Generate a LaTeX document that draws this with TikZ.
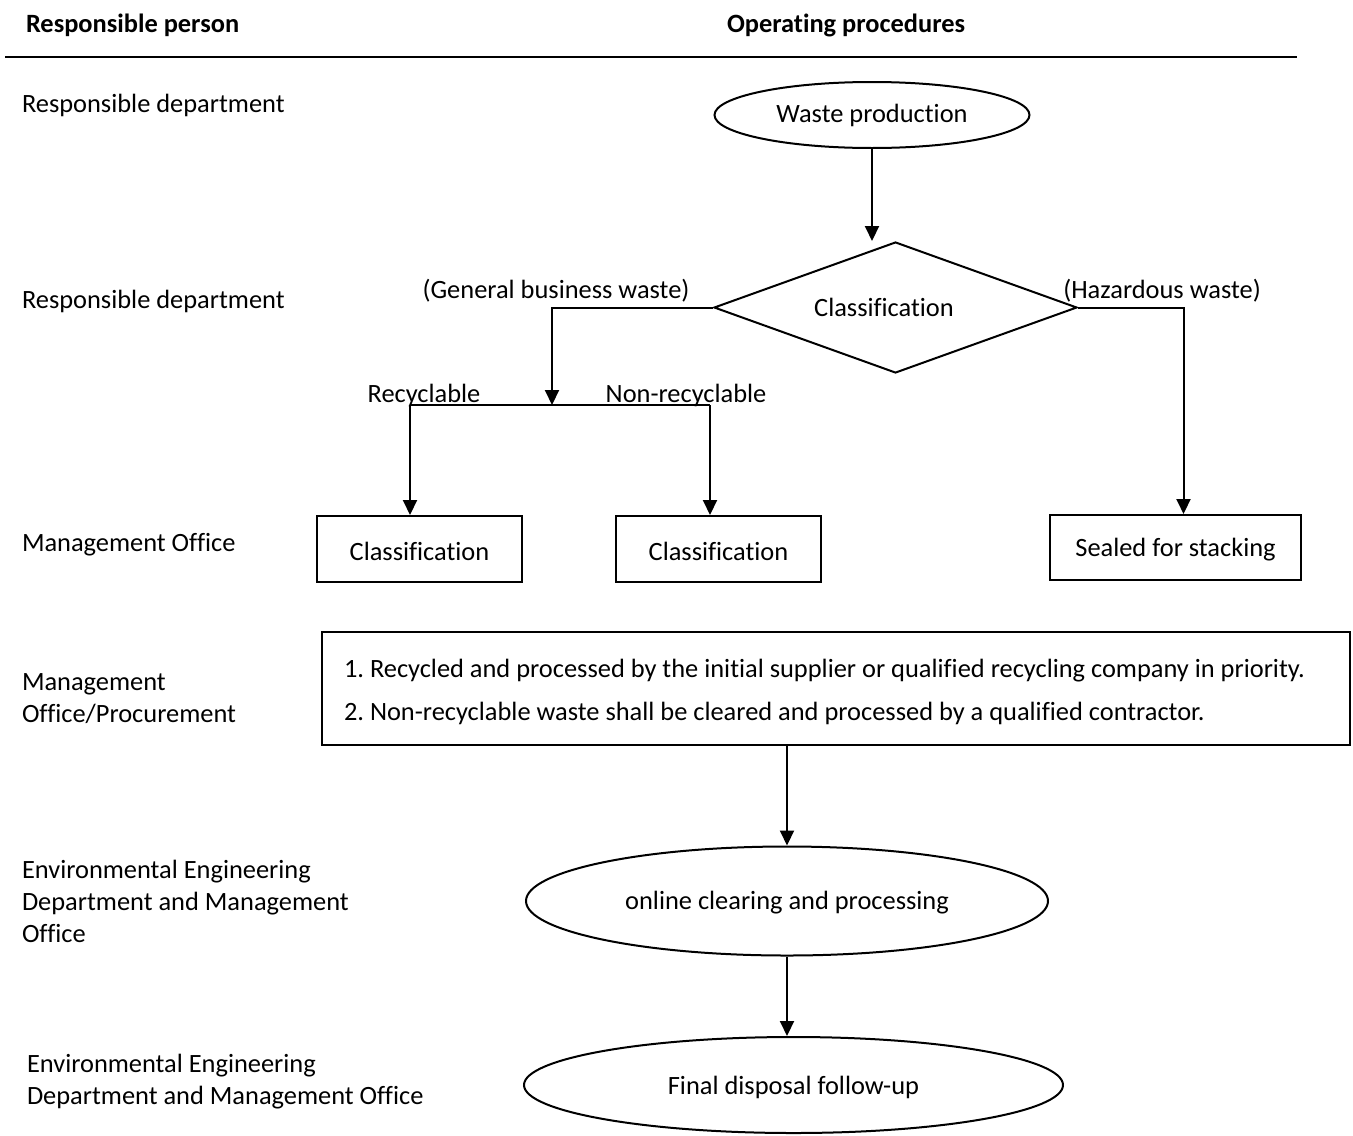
\documentclass[tikz,border=0pt]{standalone}
\usepackage{fontspec}
\setmainfont{Carlito}[Ligatures={NoCommon,NoContextual}]
\usetikzlibrary{shapes.geometric,arrows.meta}
\frenchspacing
\begin{document}
\begin{tikzpicture}[x=0.5pt,y=-0.5pt,
  font=\fontsize{13.2}{16}\selectfont,
  line width=1pt,
  arr/.style={-{Triangle[length=7.5pt,width=7pt]}},
  box/.style={draw, rectangle, minimum height=33pt, inner sep=0pt},
  oval/.style={draw, ellipse, inner sep=0pt},
  lbl/.style={anchor=west, align=left, inner sep=0pt},
  hdr/.style={anchor=west, inner sep=0pt, font=\fontsize{13.2}{16}\selectfont\bfseries},
  tag/.style={inner sep=0pt}
]
\useasboundingbox (0,0) rectangle (1353,1135);

% header
\node[hdr] (h1) at (25,25) {Responsible person};
\node[hdr] (h2) at (726,25) {Operating procedures};
\coordinate (hl) at (5,57);
\coordinate (hr) at (1297,57);
\draw[line width=1.2pt] (hl) -- (hr);

% left column
\node[lbl] (r1) at (21,105) {Responsible department};
\node[lbl] (r2) at (21,301) {Responsible department};
\node[lbl] (r3) at (21,545) {Management Office};
\node[lbl] (r4) at (21,699) {Management\\Office/Procurement};
\node[lbl] (r5) at (21,901) {Environmental Engineering\\Department and Management\\Office};
\node[lbl] (r6) at (26,1082) {Environmental Engineering\\Department and Management Office};

% flow
\node[oval, minimum width=157.5pt, minimum height=33pt] (wp) at (872,115) {Waste production};
\node[draw, diamond, shape aspect=2.8, minimum width=181.5pt, minimum height=65.5pt, inner sep=0pt] (cl) at (895.5,307.5) {};
\node[tag] (clt) at (884,307) {Classification};

\draw[arr] (wp.south) -- (wp.south |- cl.north);

\node[tag] (gbw) at (556,291) {(General business waste)};
\node[tag] (hw) at (1162,291) {(Hazardous waste)};
\node[tag] (rec) at (424,395) {Recyclable};
\node[tag] (nrec) at (686,395) {Non-recyclable};

\node[box, minimum width=102.5pt] (c1) at (419.5,549) {};
\node[tag] (c1t) at (419.5,551) {Classification};
\node[box, minimum width=102.5pt] (c2) at (718.5,549) {};
\node[tag] (c2t) at (718.5,551) {Classification};
\node[box, minimum width=125.5pt, minimum height=32.5pt] (c3) at (1175.5,547.5) {};
\node[tag] (c3t) at (1175.5,550) {Sealed for stacking};

\coordinate (g) at (552,405);
\coordinate (bl) at (410,405);
\coordinate (br) at (710,405);
\draw[arr] (cl.west) -| (g);
\draw (bl) -- (br);
\draw[arr] (bl) -- (bl |- c1.north);
\draw[arr] (br) -- (br |- c2.north);
\draw[arr] (cl.east) -| ([xshift=4pt]c3.north);

\node[draw, rectangle, minimum width=514pt, minimum height=56.5pt, inner sep=0pt] (bb) at (836,688.5) {};
\node[anchor=west, align=left, inner sep=0pt] (bbt) at (343,692)
  {1. Recycled and processed by the initial supplier or qualified recycling company in priority.\\[5.5pt]
   2. Non-recyclable waste shall be cleared and processed by a qualified contractor.};

\node[oval, minimum width=261pt, minimum height=54.5pt] (e2) at (787,901) {};
\node[tag] (e2t) at (787,903) {online clearing and processing};
\node[oval, minimum width=269.5pt, minimum height=48pt] (e3) at (793.5,1085) {};
\node[tag] (e3t) at (793.5,1087) {Final disposal follow-up};

\draw[arr] (bb.south -| e2.north) -- (e2.north);
\draw[arr] (e2.south) -- (e2.south |- e3.north);
\end{tikzpicture}
\end{document}
